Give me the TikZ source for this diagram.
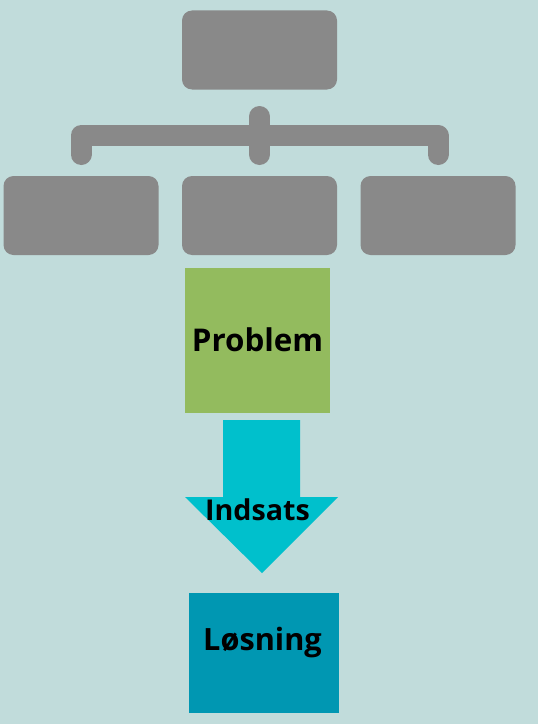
\documentclass[tikz,border=0pt]{standalone}
\usepackage{fontspec}
\setmainfont{Open Sans}
\definecolor{bg}{RGB}{193,220,219}
\definecolor{grayb}{RGB}{137,137,137}
\definecolor{probg}{RGB}{147,187,94}
\definecolor{arrowc}{RGB}{0,192,204}
\definecolor{losc}{RGB}{0,151,178}
\tikzset{
  graybox/.style={fill=grayb,rounded corners=7.5pt,minimum width=155*0.75pt,minimum height=79*0.75pt,inner sep=0pt},
  bracket/.style={draw=grayb,line width=15.75pt,line cap=round,line join=round},
  labeltext/.style={font=\bfseries\fontsize{23.5}{28}\selectfont,text=black,inner sep=0pt},
  colbox/.style={inner sep=0pt}
}
\begin{document}
\begin{tikzpicture}[x=0.75pt,y=-0.75pt]
\useasboundingbox[fill=bg] (0,0) rectangle (538,724);
\node[graybox] (top) at (259.5,50) {};
\node[graybox] (bl) at (81,215.5) {};
\node[graybox] (bm) at (259.5,215.5) {};
\node[graybox] (br) at (438,215.5) {};
\coordinate (hl) at (81,135.5);
\coordinate (hr) at (438,135.5);
\coordinate (hc) at (259.5,116.5);
\coordinate (dl) at (81,154.5);
\coordinate (dc) at (259.5,154.5);
\coordinate (dr) at (438,154.5);
\draw[bracket] (dl) -- (hl) -- (hr) -- (dr);
\draw[bracket] (hc) -- (dc);
\node[colbox,fill=probg,minimum width=145*0.75pt,minimum height=145*0.75pt] (prob) at (257.5,340.5) {};
\node[labeltext] at (257.5,339.5) {Problem};
\fill[arrowc] (223,420) -- (300,420) -- (300,497) -- (338,497) -- (262,573) -- (185,497) -- (223,497) -- cycle;
\node[labeltext,font=\bfseries\fontsize{21.5}{26}\selectfont] (ind) at (257.5,510) {Indsats};
\node[colbox,fill=losc,minimum width=150*0.75pt,minimum height=120*0.75pt] (los) at (264,653) {};
\node[labeltext,font=\bfseries\fontsize{23}{27}\selectfont] at (262.5,643) {Løsning};
\end{tikzpicture}
\end{document}
